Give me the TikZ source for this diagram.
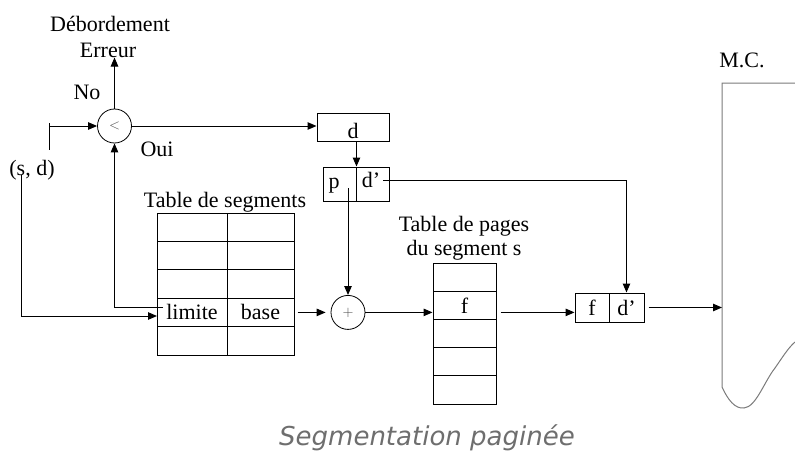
\documentclass[tikz,border=0pt]{standalone}
\usepackage{fontspec}
\setmainfont{Liberation Serif}
\newfontfamily\capfont{DejaVu Sans}
\usetikzlibrary{arrows.meta,calc}
\definecolor{capgray}{HTML}{6E6E6E}
\definecolor{mcgray}{HTML}{7A7A7A}
\begin{document}
\begin{tikzpicture}[x=1pt,y=-1pt,
  every node/.style={font=\fontsize{22}{26}\selectfont, inner sep=0pt},
  cell/.style={draw, line width=1pt},
  segcell/.style={cell, minimum height=28.4},
  pagecell/.style={cell, minimum height=28.2, minimum width=63},
  op/.style={draw, circle, line width=0.8pt, minimum size=34,
             font=\fontsize{14}{16}\selectfont, text=black!70},
  conn/.style={line width=1pt},
  arr/.style={conn, -{Triangle[length=9pt,width=7.5pt]}}]
\useasboundingbox (0,0) rectangle (795,452);

% --- comparator and its labels ---
\node[op] (cmp) at (114.5,126) {$<$};
\node (deb) at (110,24) {Débordement};
\node (err) at (108,50) {Erreur};
\node (no) at (87,92) {No};
\node (oui) at (157,149) {Oui};
\node (sd) at (32,170) {(s, d)};

% --- displacement box d and split box p | d' ---
\node[cell, minimum width=72, minimum height=28] (dbox) at (353,127) {};
\node (dtxt) at (353,131) {d};
\node[cell, minimum width=33, minimum height=34] (pcell) at (339.5,184) {};
\node (ptxt) at (334,186) {p};
\node[cell, minimum width=33, minimum height=34] (dcell) at (372.5,184) {};
\node (dptxt) at (371,180) {d'};

% --- segment table ---
\node (segtitle) at (225,202) {Table de segments};
\foreach \r/\yy in {0/227.2,1/255.6,2/284,4/340.8}{
  \node[segcell, minimum width=70] (sa\r) at (192,\yy) {};
  \node[segcell, minimum width=67] (sb\r) at (260.5,\yy) {};
}
\node[segcell, minimum width=70] (sa3) at (192,312.4) {limite};
\node[segcell, minimum width=67] (sb3) at (260.5,312.4) {base};

% --- adder ---
\node[op] (plus) at (348,312.4) {$+$};

% --- page table of segment s ---
\node (pgt1) at (464,226) {Table de pages};
\node (pgt2) at (464,250) {du segment s};
\foreach \r/\yy in {0/277.1,2/333.5,3/361.7,4/389.9}{
  \node[pagecell] (pt\r) at (464.5,\yy) {};
}
\node[pagecell] (pf) at (464.5,305.3) {f};

% --- physical address f | d' ---
\node[cell, minimum width=34, minimum height=29] (ff) at (592,307.5) {f};
\node[cell, minimum width=35, minimum height=29] (dd) at (626.5,307.5) {d'};

% --- main memory ---
\node (mc) at (742,60) {M.C.};
\draw[conn, mcgray] (795,83) -- (722,83) -- (722,387)
  .. controls (728,400) and (735,409) .. (744,408)
  .. controls (756,407) and (764,382) .. (775,368)
  .. controls (782,358) and (788,348) .. (795,342);
\coordinate (mcin) at (722,309);

% --- connectors ---
\coordinate (sdhigh) at (49,123);
\coordinate (sdlow) at (49,150);
\coordinate (sdjoin) at (49,126);
\draw[conn] (sdhigh) -- (sdlow);
\draw[arr] (sdjoin) -- (cmp.west);

\coordinate (sdleft) at (21,175);
\coordinate (limin) at (157,316);
\draw[arr] (sdleft) |- (limin);

\coordinate (limout) at (163,307);
\draw[arr] (limout) -| (cmp.south);

\draw[arr] (cmp.north) -- (cmp.north |- err.south);
\draw[arr] (cmp.east) -- (cmp.east -| dbox.west);
\draw[arr] (pcell.north east |- dbox.south) -- (pcell.north east);

\coordinate (pdot) at (348,188);
\draw[arr] (pdot) -- (plus.north);

\draw[arr] ([xshift=3pt]sb3.east) -- ([xshift=-5pt]plus.west);
\draw[arr] (plus.east) -- (plus.east -| pf.west);
\draw[arr] ([xshift=4pt]plus.east -| pf.east) -- (plus.east -| ff.west);

\coordinate (dq) at (383,180);
\draw[arr] (dq) -| (dd.north);
\draw[arr] ([xshift=4pt]dd.east) -- (dd.east -| mcin);

% --- caption ---
\node[font=\capfont\itshape\fontsize{26}{30}\selectfont, text=capgray] (cap) at (427,438) {Segmentation paginée};
\end{tikzpicture}
\end{document}
